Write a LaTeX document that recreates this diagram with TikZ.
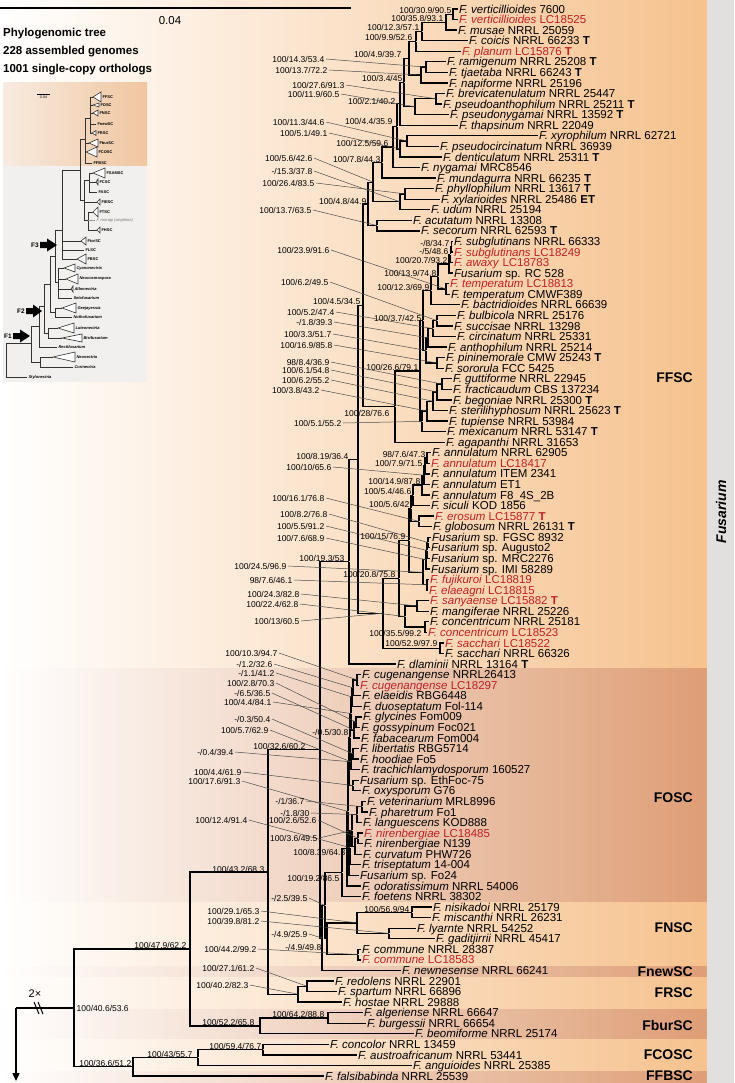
\documentclass[tikz,border=0pt]{standalone}
\usepackage{fontspec}
\setmainfont{Liberation Sans}
\usetikzlibrary{calc,arrows.meta}
\definecolor{peach}{RGB}{246,194,142}
\definecolor{salmon}{RGB}{222,158,118}
\definecolor{stripgray}{RGB}{226,224,222}
\definecolor{tred}{RGB}{192,32,38}
\definecolor{insetor}{RGB}{240,198,160}
\definecolor{insetlt}{RGB}{248,235,224}
\definecolor{insetgr}{RGB}{241,240,239}
\newcommand\tipfont{\fontsize{11.5}{12}\selectfont}
\newcommand\supfont{\fontsize{8.5}{9}\selectfont}
\newcommand\ii[1]{\textit{#1}}
\newcommand\TT{\textbf{T}}
\tikzset{
 br/.style={line width=1.3pt},
 tip/.style={anchor=west,inner sep=1pt,font=\tipfont,text height=8.2pt,text depth=0pt},
 rtip/.style={tip,text=tred},
 sup/.style={anchor=east,inner sep=0.5pt,font=\supfont,text height=6.1pt,text depth=0pt},
 ldr/.style={line width=0.5pt,black!70},
 clade/.style={anchor=east,inner sep=0pt,font=\bfseries\fontsize{14}{16}\selectfont},
 inl/.style={line width=0.6pt,black!80},
 ilab/.style={anchor=west,inner sep=0.3pt,font=\bfseries\fontsize{4}{4.5}\selectfont},
 ilabi/.style={ilab,font=\bfseries\itshape\fontsize{4}{4.5}\selectfont},
 hdr/.style={anchor=west,inner sep=0pt,font=\bfseries\fontsize{11.5}{13}\selectfont},
}
\newcommand\tip[5][tip]{\node[#1] (#2) at (#3,{9+(#4-1)*10.565}) {#5};}
\newcommand\nd[4]{\path let \p1=($(#3)!.5!(#4)$), \p2=(#2,0) in node[inner sep=0pt,minimum size=0pt] (#1) at (\x2,\y1) {};
 \draw[br] (#1) |- (#3.west); \draw[br] (#1) |- (#4.west);}
\newcommand\slab[4]{\node[sup] (#1) at (#3,#4) {#2};}
\newcommand\llab[5]{\node[sup] (#1) at (#3,#4) {#2}; \draw[ldr] ([xshift=1pt]#1.east) -- (#5);}
\newcommand\itri[4]{\draw[inl,fill=white] (#1,#3) -- (#2,{#3-#4}) -- (#2,{#3+#4}) -- cycle;}
\newcommand\barrow[3]{\fill (#1,{#3-3}) -- ({#1+7},{#3-3}) -- ({#1+7},{#3-6.5}) -- (#2,#3) -- ({#1+7},{#3+6.5}) -- ({#1+7},{#3+3}) -- (#1,{#3+3}) -- cycle;}
\begin{document}
\begin{tikzpicture}[x=1pt,y=-1pt]
\useasboundingbox (0,0) rectangle (734,1083);
% ---------- background bands
\shade[left color=white,right color=peach] (0,0) rectangle (707,668);
\shade[left color=white,right color=salmon] (0,668) rectangle (707,902);
\shade[left color=white,right color=peach] (0,902) rectangle (707,966);
\shade[left color=white,right color=salmon] (0,966) rectangle (707,977);
\shade[left color=white,right color=peach] (0,977) rectangle (707,1009);
\shade[left color=white,right color=salmon] (0,1009) rectangle (707,1039);
\shade[left color=white,right color=peach] (0,1039) rectangle (707,1071);
\shade[left color=white,right color=salmon] (0,1071) rectangle (707,1083);
\fill[stripgray] (707,0) rectangle (734,1083);
\node[rotate=90,inner sep=0pt,font=\bfseries\itshape\fontsize{14}{16}\selectfont] (fus) at (721,512) {Fusarium};
% ---------- clade labels
\node[clade] (cFFSC) at (693,378) {FFSC};
\node[clade] (cFOSC) at (693,798) {FOSC};
\node[clade] (cFNSC) at (693,928) {FNSC};
\node[clade] (cFnew) at (693,972) {FnewSC};
\node[clade] (cFRSC) at (693,993) {FRSC};
\node[clade] (cFbur) at (693,1025) {FburSC};
\node[clade] (cFCOSC) at (693,1055) {FCOSC};
\node[clade] (cFFBSC) at (693,1076) {FFBSC};
% ---------- header
\coordinate (sb1) at (0,8); \coordinate (sb2) at (351,8);
\draw[line width=1.2pt] (sb1) -- (sb2);
\node[inner sep=0pt,font=\fontsize{11.5}{13}\selectfont] (sbl) at (170,21) {0.04};
\node[hdr] (h1) at (3,34) {Phylogenomic tree};
\node[hdr] (h2) at (3,52) {228 assembled genomes};
\node[hdr] (h3) at (3,70) {1001 single-copy orthologs};
% ---------- inset
\fill[insetgr] (3,166) rectangle (147,382);
\shade[left color=insetlt,right color=insetor] (3,83) rectangle (147,166);
\draw[line width=0.4pt] (37,94) -- (50,94);
\node[inner sep=0pt,font=\fontsize{3.6}{4}\selectfont] (isb) at (43.5,97.5) {0.04};
\draw[inl] (6,343)--(6,377) (6,377)--(27,377) (6,343)--(31,343);
\draw[inl] (31,326)--(31,362) (31,362)--(40,362) (40,357)--(40,367) (40,357)--(53,357) (40,367)--(73,367);
\draw[inl] (31,326)--(39,326) (39,306)--(39,347) (39,347)--(57,347);
\draw[inl] (39,306)--(44,306) (44,284)--(44,333) (44,333)--(48,333) (48,328)--(48,338) (48,328)--(58,328) (48,338)--(62,338);
\draw[inl] (44,284)--(50,284) (50,256)--(50,312) (50,312)--(55,312) (55,308)--(55,317) (55,308)--(62,308) (55,317)--(72,317);
\draw[inl] (50,256)--(55,256) (55,230)--(55,282) (55,282)--(58,282) (58,268)--(58,298) (58,268)--(64,268) (58,279)--(66,279) (58,289)--(71,289) (58,298)--(72,298);
\draw[inl] (55,230)--(62,230) (62,170)--(62,259) (62,241)--(81,241) (62,250)--(84,250) (62,259)--(77,259) (62,170)--(80,170);
\draw[inl] (80,139)--(80,200) (80,139)--(85,139) (80,200)--(84,200);
\draw[inl] (85,118)--(85,163) (85,118)--(90,118) (90,97)--(90,133) (90,97)--(93,97) (90,105)--(93,105) (90,113)--(93,113) (90,124)--(96,124) (90,133)--(92,133) (85,143)--(89,143) (85,152)--(86,152) (85,163)--(92,163);
\draw[inl] (84,180)--(84,220) (84,180)--(89,180) (89,173)--(89,192) (89,173)--(93,173) (89,182)--(96,182) (89,192)--(97,192) (84,202)--(97,202) (84,220)--(88,220) (88,212)--(88,230) (88,212)--(93,212) (88,230)--(97,230);
\draw[inl,black!40] (88,220)--(95,220);
\itri{93}{101}{97}{5} \itri{93}{99}{105}{2} \itri{93}{98}{113}{3} \itri{92}{96}{133}{2.5}
\itri{89}{98}{143}{4} \itri{86}{97}{152}{5} \itri{93}{105}{173}{5} \itri{96}{98}{182}{3}
\itri{97}{100}{202}{3} \itri{93}{98}{212}{5} \itri{97}{100}{230}{3} \itri{81}{86}{241}{4}
\itri{77}{86}{259}{5} \itri{64}{75}{268}{4} \itri{66}{78}{279}{5} \itri{71}{73}{289}{3}
\itri{62}{76}{308}{5} \itri{58}{74}{328}{5} \itri{62}{82}{338}{4} \itri{53}{75}{357}{5}
\node[ilab] (i1) at (102,97) {FFSC};
\node[ilab] (i2) at (100,105) {FOSC};
\node[ilab] (i3) at (99,113) {FNSC};
\node[ilab] (i4) at (97,124) {FnewSC};
\node[ilab] (i5) at (97,133) {FRSC};
\node[ilab] (i6) at (99,143) {FburSC};
\node[ilab] (i7) at (98,152) {FCOSC};
\node[ilab] (i8) at (93,163) {FFBSC};
\node[ilab] (i9) at (106,173) {FSAMSC};
\node[ilab] (i10) at (99,182) {FCSC};
\node[ilab] (i11) at (98,192) {FASC};
\node[ilab] (i12) at (101,202) {FIESC};
\node[ilab] (i13) at (99,212) {FTSC};
\node[ilab,font=\itshape\fontsize{4}{4.5}\selectfont,text=black!55] (i14) at (96,220) {F. nurragi (singleton)};
\node[ilab] (i15) at (101,230) {FHSC};
\node[ilab] (i16) at (87,241) {FtorSC};
\node[ilab] (i17) at (85,250) {FLSC};
\node[ilab] (i18) at (87,259) {FBSC};
\node[ilabi] (i19) at (76,268) {Cyanonectria};
\node[ilabi] (i20) at (79,279) {Neocosmospora};
\node[ilabi] (i21) at (74,289) {Albonectria};
\node[ilabi] (i22) at (73,298) {Setofusarium};
\node[ilabi] (i23) at (77,308) {Geejayessia};
\node[ilabi] (i24) at (73,317) {Nothofusarium};
\node[ilabi] (i25) at (75,328) {Luteonectria};
\node[ilabi] (i26) at (83,338) {Bisifusarium};
\node[ilabi] (i27) at (58,347) {Rectifusarium};
\node[ilabi] (i28) at (76,357) {Neonectria};
\node[ilabi] (i29) at (74,367) {Corinectria};
\node[ilabi] (i30) at (28,377) {Stylonectria};
\barrow{40}{57}{245} \barrow{26}{42}{311} \barrow{13}{30}{336}
\node[anchor=east,inner sep=0pt,font=\bfseries\fontsize{6.5}{7}\selectfont] (F3) at (39,245) {F3};
\node[anchor=east,inner sep=0pt,font=\bfseries\fontsize{6.5}{7}\selectfont] (F2) at (25,311) {F2};
\node[anchor=east,inner sep=0pt,font=\bfseries\fontsize{6.5}{7}\selectfont] (F1) at (12,336) {F1};
% ---------- tips
\tip{t1}{458}{1}{\ii{F. verticillioides} 7600}
\tip[rtip]{t2}{458}{2}{\ii{F. verticillioides} LC18525}
\tip{t3}{457}{3}{\ii{F. musae} NRRL 25059}
\tip{t4}{468}{4}{\ii{F. coicis} NRRL 66233 \TT}
\tip[rtip]{t5}{461}{5}{\ii{F. planum} LC15876 \TT}
\tip{t6}{446}{6}{\ii{F. ramigenum} NRRL 25208 \TT}
\tip{t7}{448}{7}{\ii{F. tjaetaba} NRRL 66243 \TT}
\tip{t8}{448}{8}{\ii{F. napiforme} NRRL 25196}
\tip{t9}{445}{9}{\ii{F. brevicatenulatum} NRRL 25447}
\tip{t10}{442}{10}{\ii{F. pseudoanthophilum} NRRL 25211 \TT}
\tip{t11}{449}{11}{\ii{F. pseudonygamai} NRRL 13592 \TT}
\tip{t12}{458}{12}{\ii{F. thapsinum} NRRL 22049}
\tip{t13}{538}{13}{\ii{F. xyrophilum} NRRL 62721}
\tip{t14}{439}{14}{\ii{F. pseudocircinatum} NRRL 36939}
\tip{t15}{442}{15}{\ii{F. denticulatum} NRRL 25311 \TT}
\tip{t16}{420}{16}{\ii{F. nygamai} MRC8546}
\tip{t17}{436}{17}{\ii{F. mundagurra} NRRL 66235 \TT}
\tip{t18}{434}{18}{\ii{F. phyllophilum} NRRL 13617 \TT}
\tip{t19}{440}{19}{\ii{F. xylarioides} NRRL 25486 \textbf{ET}}
\tip{t20}{430}{20}{\ii{F. udum} NRRL 25194}
\tip{t21}{412}{21}{\ii{F. acutatum} NRRL 13308}
\tip{t22}{420}{22}{\ii{F. secorum} NRRL 62593 \TT}
\tip{t23}{453}{23}{\ii{F. subglutinans} NRRL 66333}
\tip[rtip]{t24}{453}{24}{\ii{F. subglutinans} LC18249}
\tip[rtip]{t25}{453}{25}{\ii{F. awaxy} LC18783}
\tip{t26}{453}{26}{\ii{Fusarium} sp. RC 528}
\tip[rtip]{t27}{449}{27}{\ii{F. temperatum} LC18813}
\tip{t28}{450}{28}{\ii{F. temperatum} CMWF389}
\tip{t29}{460}{29}{\ii{F. bactridioides} NRRL 66639}
\tip{t30}{456}{30}{\ii{F. bulbicola} NRRL 25176}
\tip{t31}{453}{31}{\ii{F. succisae} NRRL 13298}
\tip{t32}{456}{32}{\ii{F. circinatum} NRRL 25331}
\tip{t33}{447}{33}{\ii{F. anthophilum} NRRL 25214}
\tip{t34}{445}{34}{\ii{F. pininemorale} CMW 25243 \TT}
\tip{t35}{444}{35}{\ii{F. sororula} FCC 5425}
\tip{t36}{452}{36}{\ii{F. guttiforme} NRRL 22945}
\tip{t37}{452}{37}{\ii{F. fracticaudum} CBS 137234}
\tip{t38}{452}{38}{\ii{F. begoniae} NRRL 25300 \TT}
\tip{t39}{448}{39}{\ii{F. sterilihyphosum} NRRL 25623 \TT}
\tip{t40}{448}{40}{\ii{F. tupiense} NRRL 53984}
\tip{t41}{446}{41}{\ii{F. mexicanum} NRRL 53147 \TT}
\tip{t42}{445}{42}{\ii{F. agapanthi} NRRL 31653}
\tip{t43}{431}{43}{\ii{F. annulatum} NRRL 62905}
\tip[rtip]{t44}{430}{44}{\ii{F. annulatum} LC18417}
\tip{t45}{430}{45}{\ii{F. annulatum} ITEM 2341}
\tip{t46}{430}{46}{\ii{F. annulatum} ET1}
\tip{t47}{430}{47}{\ii{F. annulatum} F8\_4S\_2B}
\tip{t48}{430}{48}{\ii{F. siculi} KOD 1856}
\tip[rtip]{t49}{434}{49}{\ii{F. erosum} LC15877 \TT}
\tip{t50}{432}{50}{\ii{F. globosum} NRRL 26131 \TT}
\tip{t51}{431}{51}{\ii{Fusarium} sp. FGSC 8932}
\tip{t52}{430}{52}{\ii{Fusarium} sp. Augusto2}
\tip{t53}{430}{53}{\ii{Fusarium} sp. MRC2276}
\tip{t54}{430}{54}{\ii{Fusarium} sp. IMI 58289}
\tip[rtip]{t55}{429}{55}{\ii{F. fujikuroi} LC18819}
\tip[rtip]{t56}{428}{56}{\ii{F. elaeagni} LC18815}
\tip[rtip]{t57}{429}{57}{\ii{F. sanyaense} LC15882 \TT}
\tip{t58}{429}{58}{\ii{F. mangiferae} NRRL 25226}
\tip{t59}{429}{59}{\ii{F. concentricum} NRRL 25181}
\tip[rtip]{t60}{427}{60}{\ii{F. concentricum} LC18523}
\tip[rtip]{t61}{444}{61}{\ii{F. sacchari} LC18522}
\tip{t62}{444}{62}{\ii{F. sacchari} NRRL 66326}
\tip{t63}{396}{63}{\ii{F. dlaminii} NRRL 13164 \TT}
\tip{t64}{361}{64}{\ii{F. cugenangense} NRRL26413}
\tip[rtip]{t65}{359}{65}{\ii{F. cugenangense} LC18297}
\tip{t66}{361}{66}{\ii{F. elaeidis} RBG6448}
\tip{t67}{362}{67}{\ii{F. duoseptatum} Fol-114}
\tip{t68}{362}{68}{\ii{F. glycines} Fom009}
\tip{t69}{360}{69}{\ii{F. gossypinum} Foc021}
\tip{t70}{360}{70}{\ii{F. fabacearum} Fom004}
\tip{t71}{359}{71}{\ii{F. libertatis} RBG5714}
\tip{t72}{359}{72}{\ii{F. hoodiae} Fo5}
\tip{t73}{360}{73}{\ii{F. trachichlamydosporum} 160527}
\tip{t74}{359}{74}{\ii{Fusarium} sp. EthFoc-75}
\tip{t75}{361}{75}{\ii{F. oxysporum} G76}
\tip{t76}{366}{76}{\ii{F. veterinarium} MRL8996}
\tip{t77}{368}{77}{\ii{F. pharetrum} Fo1}
\tip{t78}{362}{78}{\ii{F. languescens} KOD888}
\tip[rtip]{t79}{363}{79}{\ii{F. nirenbergiae} LC18485}
\tip{t80}{363}{80}{\ii{F. nirenbergiae} N139}
\tip{t81}{362}{81}{\ii{F. curvatum} PHW726}
\tip{t82}{361}{82}{\ii{F. triseptatum} 14-004}
\tip{t83}{359}{83}{\ii{Fusarium} sp. Fo24}
\tip{t84}{361}{84}{\ii{F. odoratissimum} NRRL 54006}
\tip{t85}{361}{85}{\ii{F. foetens} NRRL 38302}
\tip{t86}{432}{86}{\ii{F. nisikadoi} NRRL 25179}
\tip{t87}{431}{87}{\ii{F. miscanthi} NRRL 26231}
\tip{t88}{416}{88}{\ii{F. lyarnte} NRRL 54252}
\tip{t89}{435}{89}{\ii{F. gaditjirrii} NRRL 45417}
\tip{t90}{361}{90}{\ii{F. commune} NRRL 28387}
\tip[rtip]{t91}{361}{91}{\ii{F. commune} LC18583}
\tip{t92}{401}{92}{\ii{F. newnesense} NRRL 66241}
\tip{t93}{334}{93}{\ii{F. redolens} NRRL 22901}
\tip{t94}{337}{94}{\ii{F. spartum} NRRL 66896}
\tip{t95}{342}{95}{\ii{F. hostae} NRRL 29888}
\tip{t96}{363}{96}{\ii{F. algeriense} NRRL 66647}
\tip{t97}{366}{97}{\ii{F. burgessii} NRRL 66654}
\tip{t98}{414}{98}{\ii{F. beomiforme} NRRL 25174}
\tip{t99}{329}{99}{\ii{F. concolor} NRRL 13459}
\tip{t100}{357}{100}{\ii{F. austroafricanum} NRRL 53441}
\tip{t101}{412}{101}{\ii{F. anguioides} NRRL 25385}
\tip{t102}{324}{102}{\ii{F. falsibabinda} NRRL 25539}
% ---------- internal nodes
\nd{a1}{453}{t1}{t2} \nd{a2}{446}{a1}{t3} \nd{a3}{422}{a2}{t4} \nd{a4}{416}{a3}{t5}
\nd{a5}{426}{t6}{t7} \nd{a6}{421}{a5}{t8} \nd{a7}{409}{a4}{a6}
\nd{a8}{436}{t9}{t10} \nd{a9}{415}{a8}{t11} \nd{a10}{404}{a7}{a9} \nd{a11}{400}{a10}{t12}
\nd{a12}{407}{t13}{t14} \nd{a13}{400}{a12}{t15} \nd{a14}{397}{a11}{a13} \nd{a15}{393}{a14}{t16}
\nd{a16}{382}{a15}{t17} \nd{a17}{405}{t18}{t19} \nd{a18}{400}{a17}{t20} \nd{a19}{373}{a16}{a18}
\nd{a20}{377}{t21}{t22} \nd{a21}{368}{a19}{a20}
\nd{b1}{451.5}{t23}{t24} \nd{b2}{450.5}{b1}{t25} \nd{b3}{449}{b2}{t26} \nd{b4}{446}{t27}{t28}
\nd{b5}{438}{b3}{b4} \nd{b6}{431}{b5}{t29} \nd{b7}{437}{t30}{t31} \nd{b8}{433}{b7}{t32}
\nd{b9}{428}{b8}{t33} \nd{b10}{437}{t34}{t35} \nd{b11}{426}{b9}{b10} \nd{b12}{423}{b6}{b11}
\nd{b13}{442}{t36}{t37} \nd{b14}{437}{b13}{t38} \nd{b15}{433}{b14}{t39} \nd{b16}{427}{b15}{t40}
\nd{b17}{422}{b16}{t41} \nd{b18}{420}{b12}{b17} \nd{b19}{395}{b18}{t42}
\nd{c1}{363}{a21}{b19}
\nd{d1}{427}{t43}{t44} \nd{d2}{425}{d1}{t45} \nd{d3}{424}{d2}{t46} \nd{d4}{422}{d3}{t47}
\nd{d5}{413}{d4}{t48} \nd{d6}{419}{t49}{t50} \nd{d7}{411}{d5}{d6}
\nd{e1}{428}{t51}{t52} \nd{e2}{427}{e1}{t53} \nd{e3}{426}{e2}{t54} \nd{e4}{427}{t55}{t56}
\nd{e5}{423}{e3}{e4} \nd{d8}{409}{d7}{e5}
\nd{f1}{417}{t57}{t58} \nd{f2}{425}{t59}{t60} \nd{f3}{405}{f1}{f2}
\nd{g1}{399}{d8}{f3} \nd{g2}{440}{t61}{t62} \nd{g3}{383}{g1}{g2}
\nd{c2}{358}{c1}{g3} \nd{c3}{349}{c2}{t63}
\nd{p1}{357}{t64}{t65} \nd{p2}{353}{p1}{t66} \nd{p3}{352}{p2}{t67} \nd{p4}{356}{t68}{t69}
\nd{p5}{354}{p4}{t70} \nd{p6}{351}{p3}{p5} \nd{p7}{353}{t71}{t72} \nd{p8}{351}{p7}{t73}
\nd{p9}{350}{p6}{p8} \nd{p10}{353}{t74}{t75} \nd{p11}{349}{p9}{p10}
\nd{q1}{362}{t76}{t77} \nd{q2}{357}{q1}{t78} \nd{q3}{358}{t79}{t80} \nd{q4}{355}{q3}{t81}
\nd{q5}{352}{q2}{q4} \nd{q6}{350}{q5}{t82} \nd{q7}{349}{q6}{t83}
\nd{r1}{348}{p11}{q7} \nd{r2}{347}{r1}{t84} \nd{r3}{342}{r2}{t85}
\nd{s1}{412}{t86}{t87} \nd{s2}{389}{t88}{t89} \nd{s3}{357}{s1}{s2} \nd{s4}{358}{t90}{t91}
\nd{s5}{327}{s3}{s4} \nd{s6}{325}{r3}{s5} \nd{s7}{322}{s6}{t92}
\nd{c4}{320}{c3}{s7}
\nd{u1}{307}{t93}{t94} \nd{u2}{298}{u1}{t95} \nd{c5}{268}{c4}{u2}
\nd{v1}{328}{t96}{t97} \nd{v2}{260}{v1}{t98} \nd{c6}{190}{c5}{v2}
\nd{w1}{263}{t99}{t100} \nd{w2}{198}{w1}{t101} \nd{c7}{133}{w2}{t102}
\nd{root}{74}{c6}{c7}
% root stem
\coordinate (sx) at (16,0); \coordinate (bot) at (0,1081);
\draw[br] (root) -- (root -| sx);
\draw[br,-{Triangle[length=8pt,width=7pt]}] (root -| sx) -- (sx |- bot);
\draw[line width=1pt] (34,1002) -- (39,1014) (38,1002) -- (43,1014);
\node[inner sep=0pt,font=\fontsize{11}{12}\selectfont] (two) at (35,994) {2×};
% ---------- support labels near nodes
\slab{L1}{100/30.9/90.5}{452}{10}
\slab{L2}{100/35.8/93.1}{444}{18}
\slab{L3}{100/12.3/57.1}{420}{27}
\slab{L4}{100/9.9/52.6}{413}{37}
\slab{L5}{100/4.9/39.7}{402}{54}
\slab{L6}{100/3.4/45}{403}{78}
\slab{L7}{100/2.1/40.2}{396}{101}
\slab{L8}{100/4.4/35.9}{393}{121}
\slab{L9}{100/12.5/59.6}{389}{143}
\slab{L10}{100/7.8/44.3}{381}{159}
\slab{L11}{100/4.8/44.9}{367}{201}
\slab{L12}{-/8/34.7}{450}{243}
\slab{L13}{-/5/48.6}{449}{251}
\slab{L14}{100/20.7/93.2}{448}{260}
\slab{L15}{100/13.9/74.8}{437}{273}
\slab{L16}{100/12.3/69.9}{430}{287}
\slab{L17}{100/4.5/34.5}{361}{301}
\slab{L18}{100/3.7/42.5}{422}{318}
\slab{L19}{100/26.6/79.1}{419}{367}
\slab{L20}{100/28/76.6}{390}{413}
\slab{L21}{100/8.19/36.4}{349}{456}
\slab{L22}{98/7.6/47.3}{426}{454}
\slab{L23}{100/7.9/71.5}{423}{463}
\slab{L24}{100/14.9/87.8}{421}{481}
\slab{L25}{100/5.4/46.6}{412}{491}
\slab{L26}{100/5.6/42}{410}{504}
\slab{L27}{100/15/76.9}{406}{536}
\slab{L28}{100/20.8/75.8}{396}{574}
\slab{L29}{100/19.3/53}{345}{558}
\slab{L30}{100/35.5/99.2}{422}{633}
\slab{L31}{100/52.9/97.9}{438}{643}
\slab{L32}{-/0.5/30.8}{349}{732}
\slab{L33}{100/32.6/60.2}{306}{746}
\slab{L34}{100/8.39/64.3}{346}{852}
\slab{L35}{100/19.2/86.5}{340}{878}
\slab{L36}{100/43.2/68.3}{265}{869}
\slab{L37}{100/47.9/62.2}{187}{945}
\node[sup,anchor=west] (L38) at (76,1008) {100/40.6/53.6};
\slab{L39}{100/64.2/88.8}{325}{1014}
\slab{L40}{100/52.2/65.8}{255}{1022}
\slab{L41}{100/59.4/76.7}{262}{1046}
\slab{L42}{100/43/55.7}{193}{1054}
\slab{L43}{100/36.6/51.2}{132}{1063}
\slab{L44}{-/4.9/49.8}{322}{947}
\slab{L45}{100/56.9/94}{410}{909}
% ---------- support labels with leaders
\llab{M1}{100/14.3/53.4}{325}{59}{a5}
\llab{M2}{100/13.7/72.2}{328}{70}{a6}
\llab{M3}{100/27.6/91.3}{345}{85}{a8}
\llab{M4}{100/11.9/60.5}{340}{94}{a9}
\llab{M5}{100/11.3/44.6}{325}{122}{a12}
\llab{M6}{100/5.1/49.1}{328}{133}{a13}
\llab{M7}{100/5.6/42.6}{313}{158}{a19}
\llab{M8}{-/15.3/37.8}{313}{171}{a18}
\llab{M9}{100/26.4/83.5}{315}{183}{a17}
\llab{M10}{100/13.7/63.5}{312}{210}{a20}
\llab{M11}{100/23.9/91.6}{330}{250}{b4}
\llab{M12}{100/6.2/49.5}{329}{282}{b7}
\llab{M13}{100/5.2/47.4}{335}{312}{b8}
\llab{M14}{-/1.8/39.3}{333}{322}{b9}
\llab{M15}{100/3.3/51.7}{332}{334}{b11}
\llab{M16}{100/16.9/85.8}{333}{345}{b10}
\llab{M17}{98/8.4/36.9}{330}{362}{b13}
\llab{M18}{100/6.1/54.8}{330}{370}{b14}
\llab{M19}{100/6.2/55.2}{330}{380}{b15}
\llab{M20}{100/3.8/43.2}{320}{390}{b16}
\llab{M21}{100/5.1/55.2}{342}{423}{b17}
\llab{M22}{100/10/65.6}{332}{467}{d3}
\llab{M23}{100/16.1/76.8}{325}{498}{d6}
\llab{M24}{100/8.2/76.8}{328}{514}{e1}
\llab{M25}{100/5.5/91.2}{325}{526}{e2}
\llab{M26}{100/7.6/68.9}{325}{538}{e3}
\llab{M27}{100/24.5/96.9}{287}{566}{e5}
\llab{M28}{98/7.6/46.1}{293}{580}{e4}
\llab{M29}{100/24.3/82.8}{300}{594}{f1}
\llab{M30}{100/22.4/62.8}{299}{604}{f3}
\llab{M31}{100/13/60.5}{300}{621}{g3}
\llab{M32}{100/10.3/94.7}{278}{653}{p1}
\llab{M33}{-/1.2/32.6}{273}{664}{p2}
\llab{M34}{-/1.1/41.2}{275}{673}{p3}
\llab{M35}{100/2.8/70.3}{275}{683}{p4}
\llab{M36}{-/6.5/36.5}{271}{693}{p5}
\llab{M37}{100/4.4/84.1}{272}{702}{p6}
\llab{M38}{-/0.3/50.4}{271}{719}{p7}
\llab{M39}{100/5.7/62.9}{269}{730}{p8}
\llab{M40}{-/0.4/39.4}{234}{752}{p11}
\llab{M41}{100/4.4/61.9}{242}{772}{p10}
\llab{M42}{100/17.6/91.3}{241}{781}{r1}
\llab{M43}{-/1/36.7}{305}{801}{q1}
\llab{M44}{-/1.8/30}{310}{813}{q2}
\llab{M45}{100/12.4/91.4}{248}{820}{q6}
\llab{M46}{100/2.6/52.6}{317}{820}{q3}
\llab{M47}{100/3.6/49.5}{318}{838}{q5}
\llab{M48}{-/2.5/39.5}{308}{898}{s6}
\llab{M49}{100/29.1/65.3}{260}{911}{s3}
\llab{M50}{100/39.8/81.2}{260}{921}{s2}
\llab{M51}{-/4.9/25.9}{308}{934}{s7}
\llab{M52}{100/44.2/99.2}{257}{949}{s4}
\llab{M53}{100/27.1/61.2}{255}{968}{u1}
\llab{M54}{100/40.2/82.3}{249}{985}{u2}
\end{tikzpicture}
\end{document}
